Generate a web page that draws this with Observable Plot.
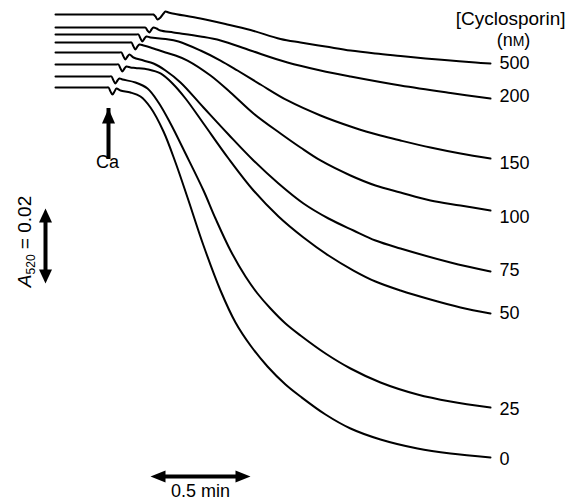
<!DOCTYPE html>
<html><head><meta charset="utf-8">
<script src="https://cdn.jsdelivr.net/npm/d3@7"></script>
<script src="https://cdn.jsdelivr.net/npm/@observablehq/plot@0.6"></script>
<style>body{margin:0;background:#fff}</style>
</head><body><div id="chart"></div>
<script>
// Cyclosporin concentrations (nM), one absorbance trace each
const concentrations = ["500","200","150","100","75","50","25","0"];

// time (s) and A520 change (x1000)
const t500 = [0,28.8,29.4,30,30.6,31.5,32.4,33,33.9,35.1,43.5,51,58.5,67.5,73.5,81,88.5,96,103.5,111,118.5,126,130.5];
const a500 = [0,0,0,-0.53,-1.33,-0.8,0.27,0.8,0.53,0.27,-1.07,-2.53,-4.13,-6.53,-7.47,-8.53,-9.6,-10.4,-11.07,-11.73,-12.27,-12.8,-13.07];
const t200 = [0,26.4,27,27.6,28.2,28.8,29.4,30.3,31.5,35.4,43.5,49.5,58.5,69.6,79.5,88.5,103.5,118.5,130.5];
const a200 = [-3.47,-3.47,-3.47,-4.27,-4.8,-4.0,-3.47,-3.73,-4.27,-4.8,-5.87,-6.93,-9.6,-12.8,-14.93,-16.53,-18.93,-20.93,-22.4];
const t150 = [0,24.3,24.9,25.5,26.1,26.7,27.3,28.5,33,36.9,43.5,49.5,54.6,61.5,69.6,79.5,89.4,97.5,103.5,112.5,121.5,130.5];
const a150 = [-5.33,-5.33,-5.33,-6.4,-7.2,-6.4,-5.87,-6.13,-6.53,-7.2,-9.6,-12.27,-14.93,-18.67,-22.93,-26.93,-30.13,-32.27,-33.6,-35.47,-37.07,-38.4];
const t100 = [0,22.2,22.8,23.4,24,24.6,25.2,26.4,28.5,33,36,39.6,46.5,52.5,59.4,67.5,73.5,79.5,88.5,96,103.5,112.5,121.5,130.5];
const a100 = [-7.47,-7.47,-7.47,-8.53,-9.33,-8.53,-8.0,-8.27,-8.8,-10.13,-10.93,-12.27,-16.27,-20.8,-26.4,-31.73,-35.47,-38.93,-42.93,-45.6,-47.47,-49.6,-50.93,-52.27];
const t75 = [0,19.2,19.8,20.4,21,21.6,22.2,23.4,26.4,29.4,33,37.5,44.4,51.9,59.4,66.9,74.4,81.9,89.4,96,103.5,118.5,130.5];
const a75 = [-10.13,-10.13,-10.13,-11.2,-12.0,-11.2,-10.67,-11.47,-12.27,-13.07,-14.93,-18.13,-24.8,-32.0,-38.93,-45.07,-50.4,-54.4,-57.6,-60.27,-62.4,-66.13,-68.53];
const t50 = [0,18.3,18.9,19.5,20.1,20.7,21.3,22.5,24,27.9,31.5,35.1,39,44.4,51.9,59.4,66.9,74.4,81.9,89.4,96,103.5,112.5,121.5,130.5];
const a50 = [-13.33,-13.33,-13.33,-14.4,-15.2,-14.4,-13.87,-14.13,-14.27,-14.67,-15.73,-18.4,-22.4,-29.07,-38.4,-46.93,-53.87,-59.47,-64.27,-68.27,-71.2,-73.6,-76.0,-78.13,-79.73];
const t25 = [0,16.2,16.8,17.4,18,18.6,19.2,20.1,24,27.6,30.9,34.5,39,44.4,48,52.5,57,60.6,64.5,69,73.5,81,88.5,97.5,108.6,118.5,130.5];
const a25 = [-16.53,-16.53,-16.53,-17.6,-18.4,-17.6,-17.07,-17.33,-18.13,-19.73,-23.47,-29.07,-37.07,-46.93,-54.4,-62.93,-69.87,-74.4,-78.4,-82.4,-85.6,-90.4,-94.4,-98.13,-101.33,-103.2,-104.8];
const t0 = [0,15.3,15.9,16.5,17.1,17.7,18.3,19.5,22.5,25.5,28.5,32.4,36,39.6,44.4,49.5,54,58.5,63.6,69,73.5,81,88.5,97.5,108.6,118.5,130.5];
const a0 = [-19.47,-19.47,-19.47,-20.53,-21.33,-20.53,-19.73,-20.27,-20.8,-21.87,-24.8,-31.2,-39.47,-48.8,-61.6,-73.6,-82.13,-88.27,-93.87,-98.67,-101.87,-106.67,-110.4,-113.33,-115.73,-117.07,-118.13];

// label vertical positions (A520 x1000) at the right-hand end of each trace
const labelAbs = [-13.07,-21.87,-39.73,-54.13,-68.27,-79.73,-105.33,-118.67];
const labelTime = 130.5;

// Ca addition arrow
const caTime = 15.9;
const caAbs = [-35.47, -25.07];
// scale bars: 0.02 absorbance and 0.5 min (30 s)
const barAbsTime = -3;
const barAbs = [-51.73, -71.73];
const barTimeAbs = -123.2;
const barTime = [28.5, 58.5];

const times = [t500,t200,t150,t100,t75,t50,t25,t0];
const absVals = [a500,a200,a150,a100,a75,a50,a25,a0];
const rows = concentrations.flatMap((c, i) => times[i].map((t, j) => ({c, t, a: absVals[i][j]})));
const labels = concentrations.map((c, i) => ({c, t: labelTime, a: labelAbs[i]}));

function tri(angleDeg, len, halfW) {
  const ang = angleDeg * Math.PI / 180, co = Math.cos(ang), si = Math.sin(ang);
  const pts = [[0,0],[-halfW,len],[halfW,len]].map(([x,y]) => [x*co - y*si, x*si + y*co]);
  return {draw(ctx) { ctx.moveTo(...pts[0]); ctx.lineTo(...pts[1]); ctx.lineTo(...pts[2]); ctx.closePath(); }};
}

const chart = Plot.plot({
  width: 565, height: 501, margin: 0,
  x: {domain: [-16.5, 153], axis: null},
  y: {domain: [-129.867, 3.733], axis: null},
  style: {fontFamily: "'Liberation Sans', Arial, sans-serif", background: "white", color: "black"},
  marks: [
    Plot.line(rows, {x: "t", y: "a", z: "c", stroke: "black", strokeWidth: 2, curve: "catmull-rom"}),
    Plot.text(labels, {x: "t", y: "a", text: "c", dx: 9, textAnchor: "start", fontSize: 18}),
    Plot.text(["[Cyclosporin]"], {frameAnchor: "top-right", textAnchor: "end", lineAnchor: "middle", dy: 18, fontSize: 19}),
    Plot.text(["(nM)"], {frameAnchor: "top-right", textAnchor: "middle", lineAnchor: "middle", dx: -52, dy: 40, fontSize: 18}),
    // Ca arrow
    Plot.ruleX([caTime], {y1: caAbs[0], y2: caAbs[1], strokeWidth: 4, insetTop: 12}),
    Plot.dot([{t: caTime, a: caAbs[1]}], {x: "t", y: "a", symbol: tri(0, 15, 6.5), fill: "black", stroke: null}),
    Plot.text([{t: caTime, a: -39.47}], {x: "t", y: "a", text: () => "Ca", dx: -1, fontSize: 18}),
    // absorbance scale bar
    Plot.ruleX([barAbsTime], {y1: barAbs[0], y2: barAbs[1], strokeWidth: 4, insetTop: 11, insetBottom: 11}),
    Plot.dot([{t: barAbsTime, a: barAbs[0]}], {x: "t", y: "a", symbol: tri(0, 14, 6.5), fill: "black", stroke: null}),
    Plot.dot([{t: barAbsTime, a: barAbs[1]}], {x: "t", y: "a", symbol: tri(180, 14, 6.5), fill: "black", stroke: null}),
    Plot.text([{t: -9.3, a: -60.53}], {x: "t", y: "a", text: () => "A520 = 0.02", rotate: -90, fontSize: 19}),
    // time scale bar
    Plot.ruleY([barTimeAbs], {x1: barTime[0], x2: barTime[1], strokeWidth: 4, insetLeft: 12, insetRight: 12}),
    Plot.dot([{t: barTime[0], a: barTimeAbs}], {x: "t", y: "a", symbol: tri(-90, 15, 6), fill: "black", stroke: null}),
    Plot.dot([{t: barTime[1], a: barTimeAbs}], {x: "t", y: "a", symbol: tri(90, 15, 6), fill: "black", stroke: null}),
    Plot.text([{t: 43.5, a: -127.2}], {x: "t", y: "a", text: () => "0.5 min", fontSize: 18})
  ]
});
document.getElementById("chart").appendChild(chart);

// rich text: italic A with subscript 520, small-capital M
const NS = "http://www.w3.org/2000/svg";
chart.querySelectorAll("text").forEach(el => {
  if (el.textContent === "A520 = 0.02") {
    el.textContent = "";
    const a = document.createElementNS(NS, "tspan"); a.setAttribute("font-style", "italic"); a.textContent = "A";
    const s = document.createElementNS(NS, "tspan"); s.setAttribute("font-size", "12"); s.setAttribute("dy", "4"); s.textContent = "520";
    const r = document.createElementNS(NS, "tspan"); r.setAttribute("dy", "-4"); r.textContent = " = 0.02";
    el.append(a, s, r);
  } else if (el.textContent === "(nM)") {
    el.textContent = "";
    const p = document.createElementNS(NS, "tspan"); p.textContent = "(n";
    const m = document.createElementNS(NS, "tspan"); m.setAttribute("font-size", "14"); m.textContent = "M";
    const q = document.createElementNS(NS, "tspan"); q.textContent = ")";
    el.append(p, m, q);
  }
});
</script></body></html>
